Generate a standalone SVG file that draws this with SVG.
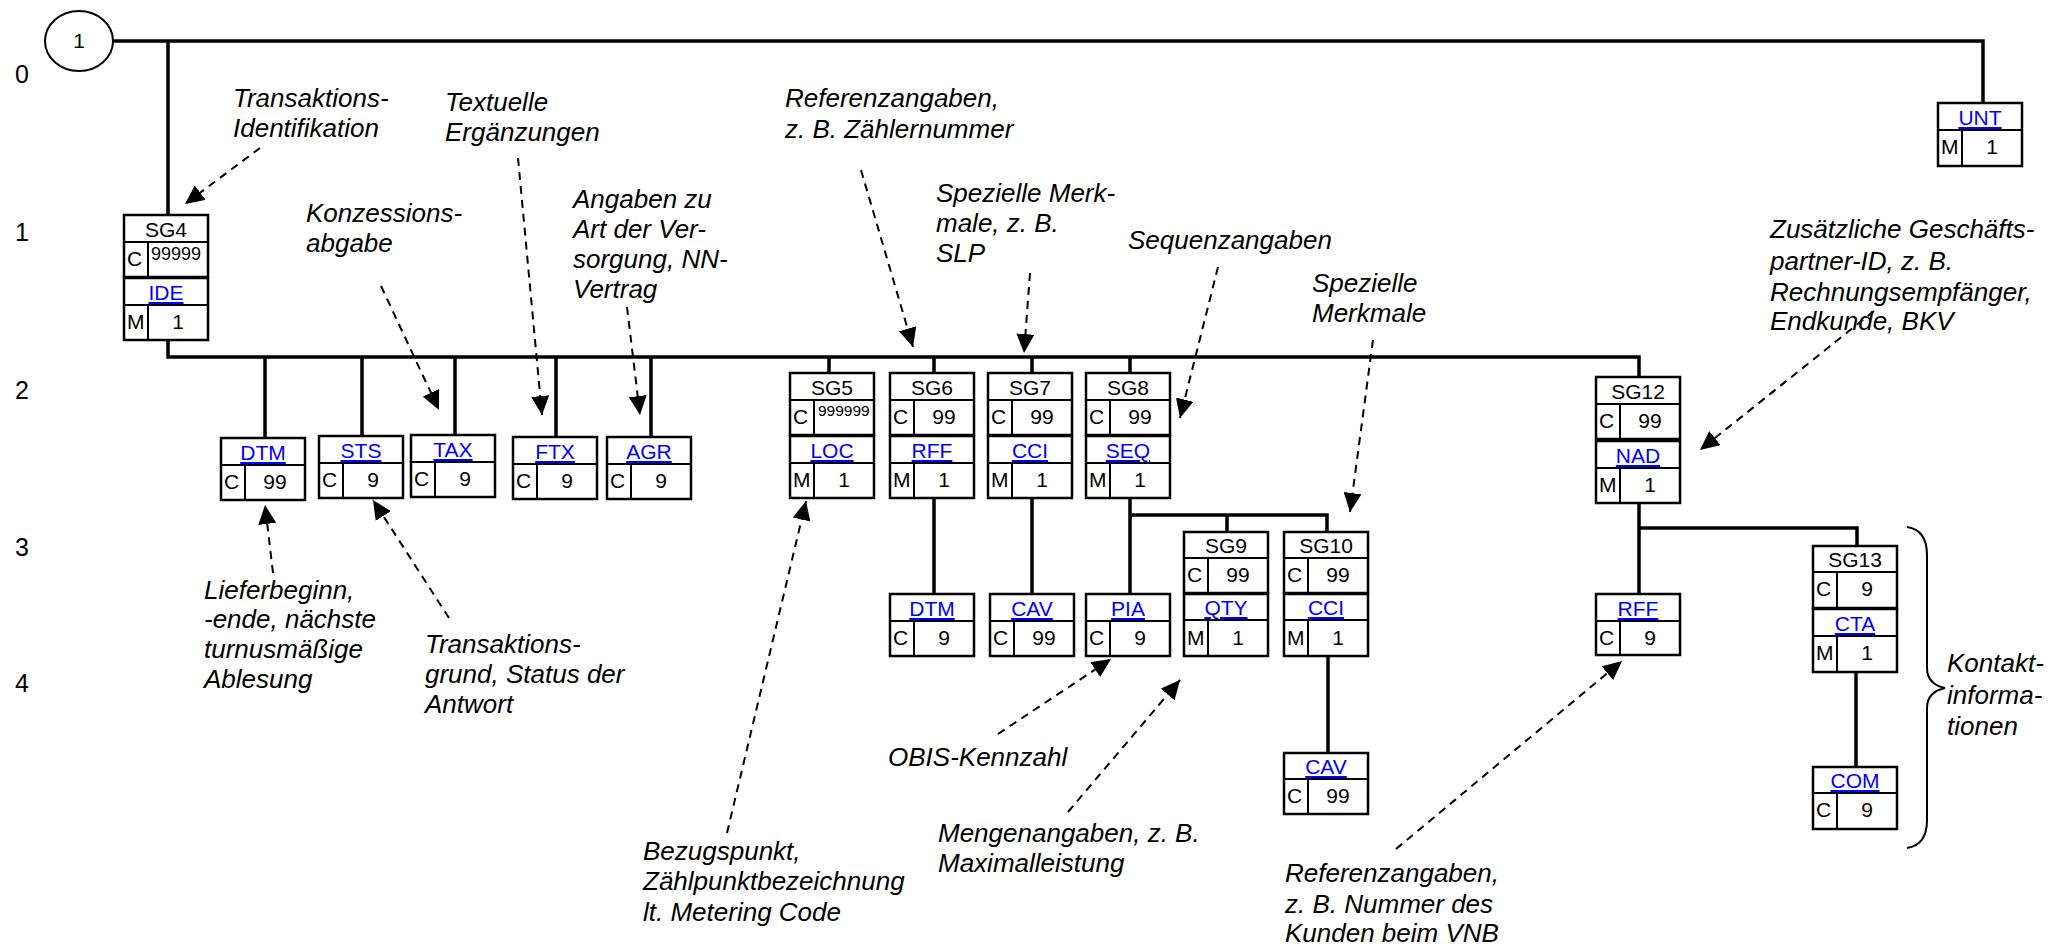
<svg xmlns="http://www.w3.org/2000/svg" width="2052" height="947" viewBox="0 0 2052 947">
<defs>
<marker id="ah" markerUnits="userSpaceOnUse" markerWidth="20" markerHeight="18" refX="19" refY="9" orient="auto">
<path d="M0,0 L19,9 L0,18 z" fill="#000"/>
</marker>
</defs>
<style>
.box rect{fill:#fff;stroke:#000;stroke-width:2.5}
.box line{stroke:#000;stroke-width:2}
.bt{font-family:"Liberation Sans",Arial,sans-serif;font-size:21px;fill:#000}
.c{text-anchor:middle}
.lk{fill:#0000FF;text-decoration:underline;text-anchor:middle}
.ann{font-family:"Liberation Sans",Arial,sans-serif;font-style:italic;font-size:26px;fill:#000}
.lvl{font-family:"Liberation Sans",Arial,sans-serif;font-size:25px;fill:#000}
.conn{stroke:#000;stroke-width:3.5;fill:none}
.dash{stroke:#000;stroke-width:2;stroke-dasharray:8 6;fill:none;marker-end:url(#ah)}
</style>
<rect width="2052" height="947" fill="#fff"/>

<g id="levels">
<text class="lvl" x="15" y="83">0</text>
<text class="lvl" x="15" y="241">1</text>
<text class="lvl" x="15" y="399">2</text>
<text class="lvl" x="15" y="556">3</text>
<text class="lvl" x="15" y="692">4</text>
</g>

<g id="connectors">
<path class="conn" d="M113,41 H1983 V103"/>
<path class="conn" d="M168,41 V215"/>
<path class="conn" d="M168,340 V357 H1639 V377"/>
<path class="conn" d="M265,357 V438 M362,357 V436 M455,357 V435 M556,357 V437 M651,357 V437"/>
<path class="conn" d="M829,357 V373 M934,357 V373 M1032,357 V373 M1130,357 V373"/>
<path class="conn" d="M934,498 V594 M1032,498 V594 M1130,498 V594"/>
<path class="conn" d="M1130,515 H1327 V532 M1227,515 V532"/>
<path class="conn" d="M1328,657 V753"/>
<path class="conn" d="M1639,503 V594 M1639,528 H1857 V546"/>
<path class="conn" d="M1856,672 V767"/>
<path d="M1907,527 Q1927,530 1927,555 V668 Q1927,684 1945,688 Q1927,692 1927,708 V820 Q1927,845 1907,848" fill="none" stroke="#000" stroke-width="2"/>
</g>

<g id="annotation-arrows">
<line class="dash" x1="260" y1="148" x2="185" y2="204"/>
<line class="dash" x1="381" y1="286" x2="439" y2="410"/>
<line class="dash" x1="518" y1="158" x2="542" y2="415"/>
<line class="dash" x1="627" y1="307" x2="640" y2="415"/>
<line class="dash" x1="861" y1="170" x2="913" y2="347"/>
<line class="dash" x1="1030" y1="273" x2="1024" y2="353"/>
<line class="dash" x1="1218" y1="267" x2="1180" y2="418"/>
<line class="dash" x1="1373" y1="340" x2="1350" y2="512"/>
<line class="dash" x1="1874" y1="311" x2="1700" y2="450"/>
<line class="dash" x1="273" y1="573" x2="265" y2="505"/>
<line class="dash" x1="449" y1="618" x2="373" y2="500"/>
<line class="dash" x1="727" y1="833" x2="806" y2="501"/>
<line class="dash" x1="998" y1="734" x2="1111" y2="659"/>
<line class="dash" x1="1068" y1="812" x2="1180" y2="680"/>
<line class="dash" x1="1396" y1="849" x2="1622" y2="661"/>
</g>

<g id="start">
<ellipse cx="79" cy="41" rx="34" ry="30" fill="#fff" stroke="#000" stroke-width="2"/>
<text class="bt c" x="79" y="48">1</text>
</g>

<g id="SG4" class="box" transform="translate(124,215)">
<rect x="0" y="0" width="84" height="62"/><line x1="0" y1="27" x2="84" y2="27"/><line x1="24" y1="27" x2="24" y2="62"/>
<text class="bt c" x="42" y="22">SG4</text><text class="bt" x="3" y="51">C</text><text class="bt" x="27" y="45" style="font-size:18px">99999</text>
<rect x="0" y="63" width="84" height="62"/><line x1="0" y1="90" x2="84" y2="90"/><line x1="24" y1="90" x2="24" y2="125"/>
<text class="bt lk" x="42" y="85">IDE</text><text class="bt" x="3" y="114">M</text><text class="bt c" x="54" y="114">1</text>
</g>

<g id="UNT" class="box" transform="translate(1938,103)">
<rect x="0" y="0" width="84" height="63"/><line x1="0" y1="27" x2="84" y2="27"/><line x1="24" y1="27" x2="24" y2="63"/>
<text class="bt lk" x="42" y="22">UNT</text><text class="bt" x="3" y="51">M</text><text class="bt c" x="54" y="51">1</text>
</g>

<g id="DTM" class="box" transform="translate(221,438)">
<rect x="0" y="0" width="84" height="62"/><line x1="0" y1="27" x2="84" y2="27"/><line x1="24" y1="27" x2="24" y2="62"/>
<text class="bt lk" x="42" y="22">DTM</text><text class="bt" x="3" y="51">C</text><text class="bt c" x="54" y="51">99</text>
</g>
<g id="STS" class="box" transform="translate(319,436)">
<rect x="0" y="0" width="84" height="62"/><line x1="0" y1="27" x2="84" y2="27"/><line x1="24" y1="27" x2="24" y2="62"/>
<text class="bt lk" x="42" y="22">STS</text><text class="bt" x="3" y="51">C</text><text class="bt c" x="54" y="51">9</text>
</g>
<g id="TAX" class="box" transform="translate(411,435)">
<rect x="0" y="0" width="84" height="62"/><line x1="0" y1="27" x2="84" y2="27"/><line x1="24" y1="27" x2="24" y2="62"/>
<text class="bt lk" x="42" y="22">TAX</text><text class="bt" x="3" y="51">C</text><text class="bt c" x="54" y="51">9</text>
</g>
<g id="FTX" class="box" transform="translate(513,437)">
<rect x="0" y="0" width="84" height="62"/><line x1="0" y1="27" x2="84" y2="27"/><line x1="24" y1="27" x2="24" y2="62"/>
<text class="bt lk" x="42" y="22">FTX</text><text class="bt" x="3" y="51">C</text><text class="bt c" x="54" y="51">9</text>
</g>
<g id="AGR" class="box" transform="translate(607,437)">
<rect x="0" y="0" width="84" height="62"/><line x1="0" y1="27" x2="84" y2="27"/><line x1="24" y1="27" x2="24" y2="62"/>
<text class="bt lk" x="42" y="22">AGR</text><text class="bt" x="3" y="51">C</text><text class="bt c" x="54" y="51">9</text>
</g>

<g id="SG5" class="box" transform="translate(790,373)">
<rect x="0" y="0" width="84" height="62"/><line x1="0" y1="27" x2="84" y2="27"/><line x1="24" y1="27" x2="24" y2="62"/>
<text class="bt c" x="42" y="22">SG5</text><text class="bt" x="3" y="51">C</text><text class="bt" x="28" y="43" style="font-size:15.5px">999999</text>
<rect x="0" y="63" width="84" height="62"/><line x1="0" y1="90" x2="84" y2="90"/><line x1="24" y1="90" x2="24" y2="125"/>
<text class="bt lk" x="42" y="85">LOC</text><text class="bt" x="3" y="114">M</text><text class="bt c" x="54" y="114">1</text>
</g>
<g id="SG6" class="box" transform="translate(890,373)">
<rect x="0" y="0" width="84" height="62"/><line x1="0" y1="27" x2="84" y2="27"/><line x1="24" y1="27" x2="24" y2="62"/>
<text class="bt c" x="42" y="22">SG6</text><text class="bt" x="3" y="51">C</text><text class="bt c" x="54" y="51">99</text>
<rect x="0" y="63" width="84" height="62"/><line x1="0" y1="90" x2="84" y2="90"/><line x1="24" y1="90" x2="24" y2="125"/>
<text class="bt lk" x="42" y="85">RFF</text><text class="bt" x="3" y="114">M</text><text class="bt c" x="54" y="114">1</text>
</g>
<g id="SG7" class="box" transform="translate(988,373)">
<rect x="0" y="0" width="84" height="62"/><line x1="0" y1="27" x2="84" y2="27"/><line x1="24" y1="27" x2="24" y2="62"/>
<text class="bt c" x="42" y="22">SG7</text><text class="bt" x="3" y="51">C</text><text class="bt c" x="54" y="51">99</text>
<rect x="0" y="63" width="84" height="62"/><line x1="0" y1="90" x2="84" y2="90"/><line x1="24" y1="90" x2="24" y2="125"/>
<text class="bt lk" x="42" y="85">CCI</text><text class="bt" x="3" y="114">M</text><text class="bt c" x="54" y="114">1</text>
</g>
<g id="SG8" class="box" transform="translate(1086,373)">
<rect x="0" y="0" width="84" height="62"/><line x1="0" y1="27" x2="84" y2="27"/><line x1="24" y1="27" x2="24" y2="62"/>
<text class="bt c" x="42" y="22">SG8</text><text class="bt" x="3" y="51">C</text><text class="bt c" x="54" y="51">99</text>
<rect x="0" y="63" width="84" height="62"/><line x1="0" y1="90" x2="84" y2="90"/><line x1="24" y1="90" x2="24" y2="125"/>
<text class="bt lk" x="42" y="85">SEQ</text><text class="bt" x="3" y="114">M</text><text class="bt c" x="54" y="114">1</text>
</g>
<g id="SG12" class="box" transform="translate(1596,377)">
<rect x="0" y="0" width="84" height="62"/><line x1="0" y1="27" x2="84" y2="27"/><line x1="24" y1="27" x2="24" y2="62"/>
<text class="bt c" x="42" y="22">SG12</text><text class="bt" x="3" y="51">C</text><text class="bt c" x="54" y="51">99</text>
<rect x="0" y="64" width="84" height="62"/><line x1="0" y1="91" x2="84" y2="91"/><line x1="24" y1="91" x2="24" y2="126"/>
<text class="bt lk" x="42" y="86">NAD</text><text class="bt" x="3" y="115">M</text><text class="bt c" x="54" y="115">1</text>
</g>

<g id="DTM2" class="box" transform="translate(890,594)">
<rect x="0" y="0" width="84" height="62"/><line x1="0" y1="27" x2="84" y2="27"/><line x1="24" y1="27" x2="24" y2="62"/>
<text class="bt lk" x="42" y="22">DTM</text><text class="bt" x="3" y="51">C</text><text class="bt c" x="54" y="51">9</text>
</g>
<g id="CAV1" class="box" transform="translate(990,594)">
<rect x="0" y="0" width="84" height="62"/><line x1="0" y1="27" x2="84" y2="27"/><line x1="24" y1="27" x2="24" y2="62"/>
<text class="bt lk" x="42" y="22">CAV</text><text class="bt" x="3" y="51">C</text><text class="bt c" x="54" y="51">99</text>
</g>
<g id="PIA" class="box" transform="translate(1086,594)">
<rect x="0" y="0" width="84" height="62"/><line x1="0" y1="27" x2="84" y2="27"/><line x1="24" y1="27" x2="24" y2="62"/>
<text class="bt lk" x="42" y="22">PIA</text><text class="bt" x="3" y="51">C</text><text class="bt c" x="54" y="51">9</text>
</g>
<g id="SG9" class="box" transform="translate(1184,532)">
<rect x="0" y="0" width="84" height="61"/><line x1="0" y1="26" x2="84" y2="26"/><line x1="24" y1="26" x2="24" y2="61"/>
<text class="bt c" x="42" y="21">SG9</text><text class="bt" x="3" y="50">C</text><text class="bt c" x="54" y="50">99</text>
<rect x="0" y="62" width="84" height="62"/><line x1="0" y1="88" x2="84" y2="88"/><line x1="24" y1="88" x2="24" y2="124"/>
<text class="bt lk" x="42" y="83">QTY</text><text class="bt" x="3" y="113">M</text><text class="bt c" x="54" y="113">1</text>
</g>
<g id="SG10" class="box" transform="translate(1284,532)">
<rect x="0" y="0" width="84" height="61"/><line x1="0" y1="26" x2="84" y2="26"/><line x1="24" y1="26" x2="24" y2="61"/>
<text class="bt c" x="42" y="21">SG10</text><text class="bt" x="3" y="50">C</text><text class="bt c" x="54" y="50">99</text>
<rect x="0" y="62" width="84" height="62"/><line x1="0" y1="88" x2="84" y2="88"/><line x1="24" y1="88" x2="24" y2="124"/>
<text class="bt lk" x="42" y="83">CCI</text><text class="bt" x="3" y="113">M</text><text class="bt c" x="54" y="113">1</text>
</g>
<g id="CAV2" class="box" transform="translate(1284,753)">
<rect x="0" y="0" width="84" height="61"/><line x1="0" y1="26" x2="84" y2="26"/><line x1="24" y1="26" x2="24" y2="61"/>
<text class="bt lk" x="42" y="21">CAV</text><text class="bt" x="3" y="50">C</text><text class="bt c" x="54" y="50">99</text>
</g>
<g id="RFF" class="box" transform="translate(1596,594)">
<rect x="0" y="0" width="84" height="61"/><line x1="0" y1="27" x2="84" y2="27"/><line x1="24" y1="27" x2="24" y2="61"/>
<text class="bt lk" x="42" y="22">RFF</text><text class="bt" x="3" y="51">C</text><text class="bt c" x="54" y="51">9</text>
</g>
<g id="SG13" class="box" transform="translate(1813,546)">
<rect x="0" y="0" width="84" height="62"/><line x1="0" y1="26" x2="84" y2="26"/><line x1="24" y1="26" x2="24" y2="62"/>
<text class="bt c" x="42" y="21">SG13</text><text class="bt" x="3" y="50">C</text><text class="bt c" x="54" y="50">9</text>
<rect x="0" y="63" width="84" height="63"/><line x1="0" y1="90" x2="84" y2="90"/><line x1="24" y1="90" x2="24" y2="126"/>
<text class="bt lk" x="42" y="85">CTA</text><text class="bt" x="3" y="114">M</text><text class="bt c" x="54" y="114">1</text>
</g>
<g id="COM" class="box" transform="translate(1813,767)">
<rect x="0" y="0" width="84" height="62"/><line x1="0" y1="26" x2="84" y2="26"/><line x1="24" y1="26" x2="24" y2="62"/>
<text class="bt lk" x="42" y="21">COM</text><text class="bt" x="3" y="50">C</text><text class="bt c" x="54" y="50">9</text>
</g>

<g id="annotations">
<text class="ann" x="233" y="107">Transaktions-</text>
<text class="ann" x="233" y="137">Identifikation</text>
<text class="ann" x="445" y="111">Textuelle</text>
<text class="ann" x="445" y="141">Ergänzungen</text>
<text class="ann" x="306" y="222">Konzessions-</text>
<text class="ann" x="306" y="252">abgabe</text>
<text class="ann" x="573" y="208">Angaben zu</text>
<text class="ann" x="573" y="238">Art der Ver-</text>
<text class="ann" x="573" y="268">sorgung, NN-</text>
<text class="ann" x="573" y="298">Vertrag</text>
<text class="ann" x="785" y="107">Referenzangaben,</text>
<text class="ann" x="785" y="138">z. B. Zählernummer</text>
<text class="ann" x="936" y="202">Spezielle Merk-</text>
<text class="ann" x="936" y="232">male, z. B.</text>
<text class="ann" x="936" y="262">SLP</text>
<text class="ann" x="1128" y="249">Sequenzangaben</text>
<text class="ann" x="1312" y="292">Spezielle</text>
<text class="ann" x="1312" y="322">Merkmale</text>
<text class="ann" x="1770" y="238">Zusätzliche Geschäfts-</text>
<text class="ann" x="1770" y="270">partner-ID, z. B.</text>
<text class="ann" x="1770" y="301">Rechnungsempfänger,</text>
<text class="ann" x="1770" y="330">Endkunde, BKV</text>
<text class="ann" x="204" y="599">Lieferbeginn,</text>
<text class="ann" x="204" y="628">-ende, nächste</text>
<text class="ann" x="204" y="658">turnusmäßige</text>
<text class="ann" x="204" y="688">Ablesung</text>
<text class="ann" x="425" y="653">Transaktions-</text>
<text class="ann" x="425" y="683">grund, Status der</text>
<text class="ann" x="425" y="713">Antwort</text>
<text class="ann" x="643" y="860">Bezugspunkt,</text>
<text class="ann" x="643" y="890">Zählpunktbezeichnung</text>
<text class="ann" x="643" y="921">lt. Metering Code</text>
<text class="ann" x="888" y="766">OBIS-Kennzahl</text>
<text class="ann" x="938" y="842">Mengenangaben, z. B.</text>
<text class="ann" x="938" y="872">Maximalleistung</text>
<text class="ann" x="1285" y="882">Referenzangaben,</text>
<text class="ann" x="1285" y="913">z. B. Nummer des</text>
<text class="ann" x="1285" y="942">Kunden beim VNB</text>
<text class="ann" x="1947" y="672">Kontakt-</text>
<text class="ann" x="1947" y="704">informa-</text>
<text class="ann" x="1947" y="735">tionen</text>
</g>
</svg>
